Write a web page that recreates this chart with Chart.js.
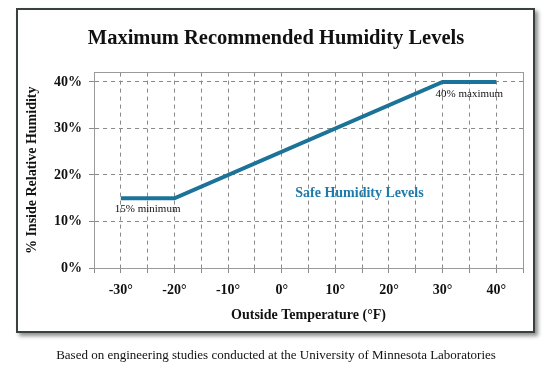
<!DOCTYPE html>
<html>
<head>
<meta charset="utf-8">
<script src="https://cdn.jsdelivr.net/npm/chart.js@4"></script>
<style>
  body { margin: 0; background: #fff; }
  #wrap { position: relative; width: 552px; height: 384px; }
  #frame {
    position: absolute; left: 16px; top: 8px; width: 519px; height: 325px;
    box-sizing: border-box; border: 2px solid #3a3f3f; background: #fff;
    box-shadow: 3px 3px 4px rgba(0,0,0,0.45);
  }
  #chart { position: absolute; left: 0; top: 0; }
  #caption {
    position: absolute; left: 0; top: 347px; width: 552px; text-align: center;
    font: 13px "Liberation Serif", serif; color: #111;
  }
</style>
</head>
<body>
<div id="wrap">
  <div id="frame"></div>
  <canvas id="chart" width="552" height="384"></canvas>
  <div id="caption">Based on engineering studies conducted at the University of Minnesota Laboratories</div>
</div>
<script>
// Humidity limit by outside temperature
const temps = [-30, -20, 30, 40];
const humidity = [15, 15, 40, 40];
const yTicks = [0, 10, 20, 30, 40];

// Text notes on the plot (data units)
const noteText = ['15% minimum', '40% maximum', 'Safe Humidity Levels'];
const noteX = [-25, 35, 14.5];
const noteY = [12.7, 37.4, 16.1];

const serif = '"Liberation Serif", "Times New Roman", serif';
const lineColor = '#1b7399';

const notesPlugin = {
    id: 'notes',
    afterDatasetsDraw(chart) {
        const ctx = chart.ctx;
        const xs = chart.scales.x, ys = chart.scales.y;
        ctx.save();
        ctx.textAlign = 'center';
        ctx.textBaseline = 'middle';
        noteText.forEach((t, i) => {
            const big = i === 2;
            ctx.font = (big ? 'bold 14px ' : '11px ') + serif;
            ctx.fillStyle = big ? '#1e7bab' : '#111';
            ctx.fillText(t, xs.getPixelForValue(noteX[i]), ys.getPixelForValue(noteY[i]));
        });
        ctx.restore();
    }
};

const dash = [4, 4];

new Chart(document.getElementById('chart').getContext('2d'), {
    type: 'scatter',
    data: {
        datasets: [{
            data: temps.map((t, i) => ({ x: t, y: humidity[i] })),
            showLine: true,
            borderColor: lineColor,
            borderWidth: 4,
            pointRadius: 0,
            tension: 0
        }]
    },
    options: {
        responsive: false,
        animation: false,
        layout: { padding: 0 },
        plugins: {
            legend: { display: false },
            tooltip: { enabled: false },
            title: {
                display: true,
                text: 'Maximum Recommended Humidity Levels',
                color: '#111',
                font: { family: serif, size: 20.5, weight: 'bold' },
                padding: { top: 26, bottom: 22 }
            }
        },
        scales: {
            x: {
                type: 'linear',
                min: -35,
                max: 45,
                afterFit: s => { s.height = 116; },
                ticks: {
                    stepSize: 5,
                    padding: 9,
                    color: '#111',
                    font: { family: serif, size: 14, weight: 'bold' },
                    maxRotation: 0,
                    autoSkip: false,
                    callback: v => (v % 10 === 0 ? v + '°' : '')
                },
                grid: { color: '#8a8a8a', tickBorderDash: [], tickLength: 5 },
                border: { color: '#9a9a9a', dash: dash },
                title: {
                    display: true,
                    text: 'Outside Temperature (°F)',
                    color: '#111',
                    font: { family: serif, size: 14, weight: 'bold' },
                    padding: { top: 0, bottom: 60 }
                }
            },
            xTop: {
                type: 'linear',
                position: 'top',
                min: -35,
                max: 45,
                afterFit: s => { s.height = 0; },
                ticks: { display: false },
                grid: { drawOnChartArea: false, drawTicks: false },
                border: { color: '#9a9a9a' }
            },
            y: {
                min: 0,
                max: 42,
                afterFit: s => { s.width = 94; },
                afterBuildTicks: s => { s.ticks = yTicks.map(v => ({ value: v })); },
                ticks: {
                    padding: 7,
                    color: '#111',
                    font: { family: serif, size: 14, weight: 'bold' },
                    callback: v => v + '%'
                },
                grid: { color: '#8a8a8a', tickBorderDash: [], tickLength: 5 },
                border: { color: '#9a9a9a', dash: dash },
                title: {
                    display: true,
                    text: '% Inside Relative Humidity',
                    color: '#111',
                    font: { family: serif, size: 14, weight: 'bold' },
                    padding: { top: 24, bottom: 0 }
                }
            },
            yRight: {
                position: 'right',
                min: 0,
                max: 42,
                afterFit: s => { s.width = 29; },
                ticks: { display: false },
                grid: { drawOnChartArea: false, drawTicks: false },
                border: { color: '#9a9a9a' }
            }
        }
    },
    plugins: [notesPlugin]
});
</script>
</body>
</html>
